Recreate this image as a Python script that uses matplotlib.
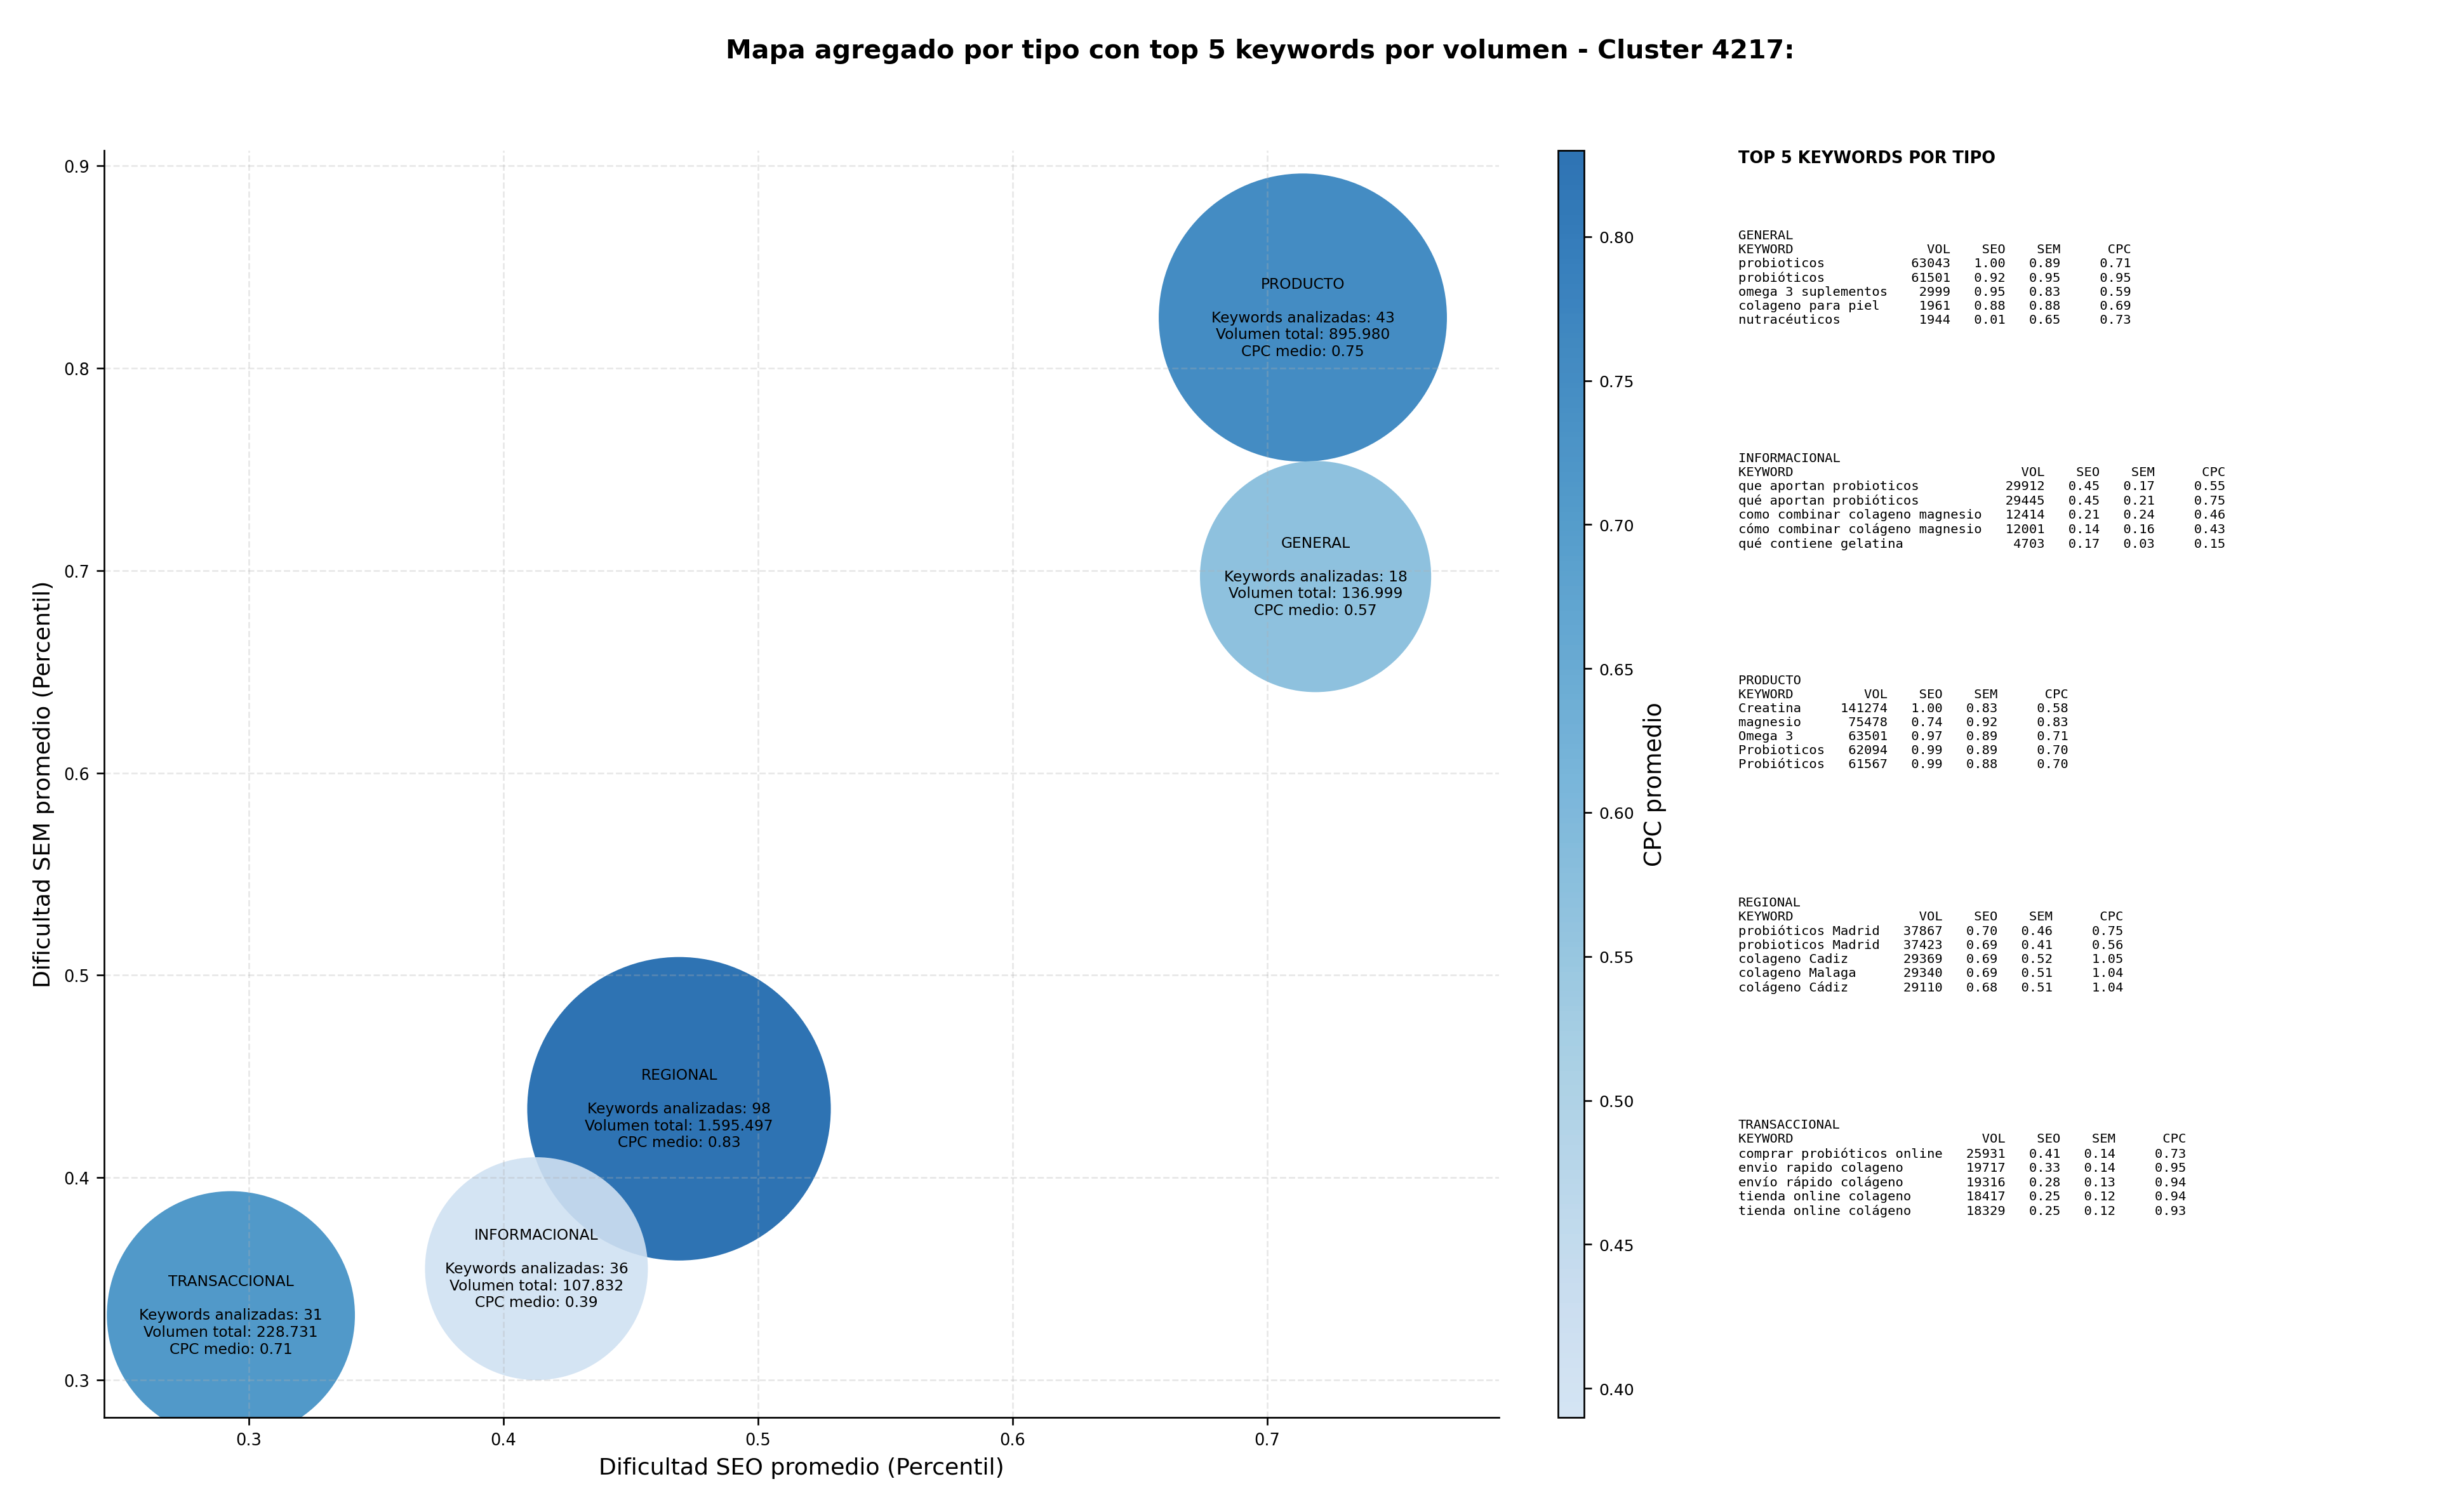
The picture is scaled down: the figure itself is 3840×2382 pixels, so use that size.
import numpy as np
import matplotlib
matplotlib.use("Agg")
import matplotlib.pyplot as plt
from matplotlib.colors import LinearSegmentedColormap

# aggregated data per keyword type
tipos = ["PRODUCTO", "GENERAL", "REGIONAL", "INFORMACIONAL", "TRANSACCIONAL"]
seo_medio = [0.714, 0.719, 0.469, 0.413, 0.293]
sem_medio = [0.825, 0.697, 0.434, 0.355, 0.332]
cpc_medio = [0.75, 0.57, 0.83, 0.39, 0.71]
n_keywords = [43, 18, 98, 36, 31]
volumen_total = [895980, 136999, 1595497, 107832, 228731]

# top 5 keywords per type: keyword, vol, seo, sem, cpc
top_tipos = ["GENERAL", "INFORMACIONAL", "PRODUCTO", "REGIONAL", "TRANSACCIONAL"]
top_kw = {
    "GENERAL": ["probioticos", "probióticos", "omega 3 suplementos", "colageno para piel", "nutracéuticos"],
    "INFORMACIONAL": ["que aportan probioticos", "qué aportan probióticos", "como combinar colageno magnesio",
                      "cómo combinar colágeno magnesio", "qué contiene gelatina"],
    "PRODUCTO": ["Creatina", "magnesio", "Omega 3", "Probioticos", "Probióticos"],
    "REGIONAL": ["probióticos Madrid", "probioticos Madrid", "colageno Cadiz", "colageno Malaga", "colágeno Cádiz"],
    "TRANSACCIONAL": ["comprar probióticos online", "envio rapido colageno", "envío rápido colágeno",
                      "tienda online colageno", "tienda online colágeno"],
}
top_vol = {
    "GENERAL": [63043, 61501, 2999, 1961, 1944],
    "INFORMACIONAL": [29912, 29445, 12414, 12001, 4703],
    "PRODUCTO": [141274, 75478, 63501, 62094, 61567],
    "REGIONAL": [37867, 37423, 29369, 29340, 29110],
    "TRANSACCIONAL": [25931, 19717, 19316, 18417, 18329],
}
top_seo = {
    "GENERAL": [1.00, 0.92, 0.95, 0.88, 0.01],
    "INFORMACIONAL": [0.45, 0.45, 0.21, 0.14, 0.17],
    "PRODUCTO": [1.00, 0.74, 0.97, 0.99, 0.99],
    "REGIONAL": [0.70, 0.69, 0.69, 0.69, 0.68],
    "TRANSACCIONAL": [0.41, 0.33, 0.28, 0.25, 0.25],
}
top_sem = {
    "GENERAL": [0.89, 0.95, 0.83, 0.88, 0.65],
    "INFORMACIONAL": [0.17, 0.21, 0.24, 0.16, 0.03],
    "PRODUCTO": [0.83, 0.92, 0.89, 0.89, 0.88],
    "REGIONAL": [0.46, 0.41, 0.52, 0.51, 0.51],
    "TRANSACCIONAL": [0.14, 0.14, 0.13, 0.12, 0.12],
}
top_cpc = {
    "GENERAL": [0.71, 0.95, 0.59, 0.69, 0.73],
    "INFORMACIONAL": [0.55, 0.75, 0.46, 0.43, 0.15],
    "PRODUCTO": [0.58, 0.83, 0.71, 0.70, 0.70],
    "REGIONAL": [0.75, 0.56, 1.05, 1.04, 1.04],
    "TRANSACCIONAL": [0.73, 0.95, 0.94, 0.94, 0.93],
}


def miles(n):
    return f"{n:,}".replace(",", ".")


def tabla(tipo):
    kws = top_kw[tipo]
    w = max(len(k) for k in kws)
    lineas = [tipo, f"{'KEYWORD':<{w}}{'VOL':>8}{'SEO':>7}{'SEM':>7}{'CPC':>9}"]
    for i, k in enumerate(kws):
        lineas.append(f"{k:<{w}}{top_vol[tipo][i]:>8}{top_seo[tipo][i]:>7.2f}"
                      f"{top_sem[tipo][i]:>7.2f}{top_cpc[tipo][i]:>9.2f}")
    return "\n".join(lineas)


cmap = LinearSegmentedColormap.from_list("blues_trunc", plt.cm.Blues(np.linspace(0.2, 0.8, 256)))

# bubble area grows with log of total volume
sizes = 3520 * np.log(np.array(volumen_total)) - 29700

fig = plt.figure(figsize=(16, 9.929), dpi=240)
ax = fig.add_axes([0.0427, 0.0627, 0.5721, 0.8376])
cax = fig.add_axes([0.639, 0.0627, 0.0108, 0.8376])

sc = ax.scatter(seo_medio, sem_medio, s=sizes, c=cpc_medio, cmap=cmap,
                vmin=min(cpc_medio), vmax=max(cpc_medio), alpha=0.9, edgecolors="none")

for i, t in enumerate(tipos):
    label = (f"{t}\n\nKeywords analizadas: {n_keywords[i]}\n"
             f"Volumen total: {miles(volumen_total[i])}\nCPC medio: {cpc_medio[i]:.2f}")
    ax.text(seo_medio[i], sem_medio[i], label, ha="center", va="center", fontsize=7)

ax.set_xlim(0.2432, 0.791)
ax.set_ylim(0.2816, 0.9077)
ax.set_xticks([0.3, 0.4, 0.5, 0.6, 0.7])
ax.set_yticks([0.3, 0.4, 0.5, 0.6, 0.7, 0.8, 0.9])
ax.tick_params(labelsize=7.7)
ax.grid(True, linestyle="--", alpha=0.3)
ax.spines["top"].set_visible(False)
ax.spines["right"].set_visible(False)
ax.set_xlabel("Dificultad SEO promedio (Percentil)", fontsize=10.9)
ax.set_ylabel("Dificultad SEM promedio (Percentil)", fontsize=10.9)

cb = fig.colorbar(sc, cax=cax)
cb.set_label("CPC promedio", fontsize=11)
cb.ax.tick_params(labelsize=7.5)

fig.text(0.517, 0.966, "Mapa agregado por tipo con top 5 keywords por volumen - Cluster 4217:",
         ha="center", va="center", fontsize=12.3, fontweight="bold")

fig.text(0.713, 0.895, "TOP 5 KEYWORDS POR TIPO", ha="left", va="center", fontsize=7.7, fontweight="bold")
for j, t in enumerate(top_tipos):
    fig.text(0.713, 0.848 - j * 0.147, tabla(t), ha="left", va="top", fontsize=6.15, family="monospace")

fig.savefig("out.png", dpi=240)
